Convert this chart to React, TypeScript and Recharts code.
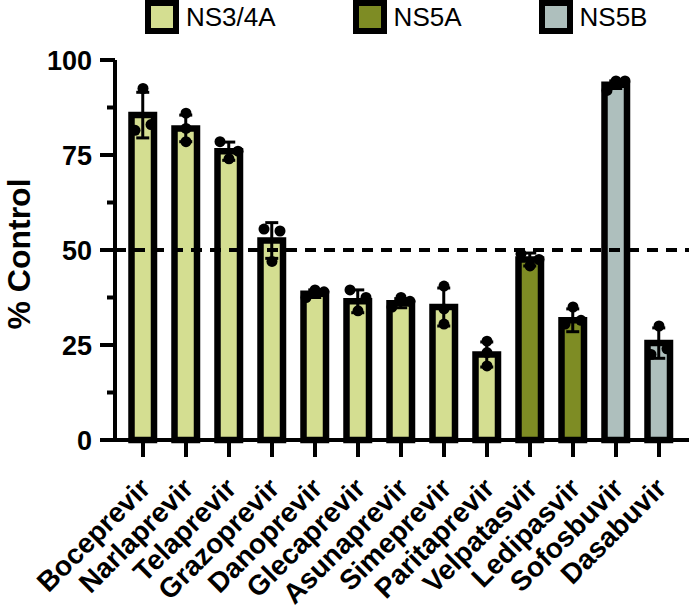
import { ComposedChart, Bar, Line, Cell, ErrorBar, XAxis, YAxis, ReferenceLine, Legend } from 'recharts';

const drugs = [
  'Boceprevir', 'Narlaprevir', 'Telaprevir', 'Grazoprevir', 'Danoprevir', 'Glecaprevir', 'Asunaprevir',
  'Simeprevir', 'Paritaprevir', 'Velpatasvir', 'Ledipasvir', 'Sofosbuvir', 'Dasabuvir',
];
const targets = [
  'NS3/4A', 'NS3/4A', 'NS3/4A', 'NS3/4A', 'NS3/4A', 'NS3/4A', 'NS3/4A',
  'NS3/4A', 'NS3/4A', 'NS5A', 'NS5A', 'NS5B', 'NS5B',
];
const means = [85.5, 82, 76, 52.5, 38.5, 36.5, 36, 35, 22.5, 47.5, 31.5, 93.5, 25.5];
const sds = [6, 3.5, 2.4, 4.7, 1, 3, 1.2, 5, 3.3, 1.7, 3, 1, 4];
const rep1 = [81.5, 86, 78.5, 55.5, 37.5, 39.5, 35, 40.5, 26, 49, 30.5, 92, 22.5];
const rep2 = [92.5, 82, 74, 47, 39.5, 34, 37.5, 34.5, 23, 45.8, 35, 94.5, 30];
const rep3 = [83, 78.5, 76, 55, 39, 37.5, 36.5, 30.5, 19.5, 47.5, 31.5, 94.5, 24];
const yTicks = [0, 12.5, 25, 37.5, 50, 62.5, 75, 87.5, 100];

const groupNames = ['NS3/4A', 'NS5A', 'NS5B'];
const groupColors = ['#d4de91', '#7e8c24', '#aebfbd'];

const FONT = '"Liberation Sans", Arial, Helvetica, sans-serif';
const Y_AXIS_W = 115;

// spread points that would overlap, like a column scatter
function jitter(values: number[]) {
  const order = values.map((_, i) => i).sort((a, b) => values[a] - values[b]);
  const clusters: number[][] = [];
  order.forEach((i) => {
    const last = clusters[clusters.length - 1];
    if (last && values[i] - values[last[last.length - 1]] < 2.8) last.push(i);
    else clusters.push([i]);
  });
  const out = values.map(() => 0);
  clusters.forEach((c) => {
    const members = [...c].sort((a, b) => a - b);
    const step = members.length === 2 ? 16 : 9;
    members.forEach((i, k) => { out[i] = (k - (members.length - 1) / 2) * step; });
  });
  return out;
}

const data = drugs.map((name, i) => {
  const j = jitter([rep1[i], rep2[i], rep3[i]]);
  return {
    name, target: targets[i], mean: means[i], sd: sds[i],
    rep1: rep1[i], rep2: rep2[i], rep3: rep3[i], j1: j[0], j2: j[1], j3: j[2],
  };
});

const colorOf = (t: string) => groupColors[groupNames.indexOf(t)];

const YTick = (props: any) => {
  const v = props.payload.value;
  const y = props.payload.coordinate ?? props.y;
  const major = v % 25 === 0;
  return (
    <g>
      <line x1={Y_AXIS_W - (major ? 15 : 8)} x2={Y_AXIS_W} y1={y} y2={y} stroke="#000" strokeWidth={4} />
      {major && (
        <text x={Y_AXIS_W - 23} y={y} dy="0.36em" textAnchor="end" fontFamily={FONT} fontWeight="bold" fontSize={27} fill="#000">
          {v}
        </text>
      )}
    </g>
  );
};

const XTick = (props: any) => {
  const ax = props.x + 9;
  const ay = 490;
  return (
    <text x={ax} y={ay} transform={`rotate(-45, ${ax}, ${ay})`} textAnchor="end" fontFamily={FONT} fontWeight="bold" fontSize={28} fill="#000">
      {props.payload.value}
    </text>
  );
};

const YLabel = (props: any) => {
  const vb = props.viewBox;
  const cy = vb.y + vb.height / 2 + 4;
  return (
    <text x={30} y={cy} transform={`rotate(-90, 30, ${cy})`} textAnchor="middle" fontFamily={FONT} fontWeight="bold" fontSize={32} fill="#000">
      % Control
    </text>
  );
};

const GroupLegend = () => (
  <div style={{ display: 'flex', gap: 77, fontFamily: FONT, fontSize: 26, lineHeight: '34px' }}>
    {groupNames.map((g, i) => (
      <div key={g} style={{ display: 'flex', alignItems: 'center', gap: 7 }}>
        <div style={{ width: 22, height: 22, border: '6px solid #000', background: groupColors[i] }} />
        <span>{g}</span>
      </div>
    ))}
  </div>
);

const dot = (k: number) => (props: any) => {
  if (props.cx == null || props.cy == null) return <g key={`d${k}-${props.index}`} />;
  return <circle key={`d${k}-${props.index}`} cx={props.cx + props.payload[`j${k}`]} cy={props.cy} r={5.5} fill="#000" />;
};

export default function App() {
  return (
    <div style={{ width: 690, height: 611, background: '#fff' }}>
      <style>{'body { margin: 0; }'}</style>
      <ComposedChart width={690} height={611} data={data} margin={{ top: 60, right: 1, bottom: 0, left: 0 }}>
        <Legend
          verticalAlign="middle"
          align="center"
          content={() => <GroupLegend />}
          wrapperStyle={{ top: 0, left: 145, width: 545 }}
        />
        <ReferenceLine y={50} stroke="#000" strokeWidth={4} strokeDasharray="11 8" />
        <XAxis
          dataKey="name"
          interval={0}
          height={171}
          tickSize={17}
          tickLine={{ stroke: '#000', strokeWidth: 4 }}
          axisLine={{ stroke: '#000', strokeWidth: 4 }}
          padding={{ left: 6.5, right: 8.5 }}
          tick={<XTick />}
        />
        <YAxis
          width={Y_AXIS_W}
          domain={[0, 100]}
          ticks={yTicks}
          interval={0}
          tickLine={false}
          axisLine={{ stroke: '#000', strokeWidth: 4 }}
          tick={<YTick />}
          label={<YLabel />}
        />
        <Bar dataKey="mean" barSize={22.5} stroke="#000" strokeWidth={6.5} isAnimationActive={false}>
          {data.map((d) => (
            <Cell key={d.name} fill={colorOf(d.target)} stroke="#000" strokeWidth={6.5} />
          ))}
          <ErrorBar dataKey="sd" direction="y" width={6.5} stroke="#000" strokeWidth={3} />
        </Bar>
        <Line dataKey="rep1" stroke="none" dot={dot(1)} activeDot={false} legendType="none" isAnimationActive={false} />
        <Line dataKey="rep2" stroke="none" dot={dot(2)} activeDot={false} legendType="none" isAnimationActive={false} />
        <Line dataKey="rep3" stroke="none" dot={dot(3)} activeDot={false} legendType="none" isAnimationActive={false} />
      </ComposedChart>
    </div>
  );
}
